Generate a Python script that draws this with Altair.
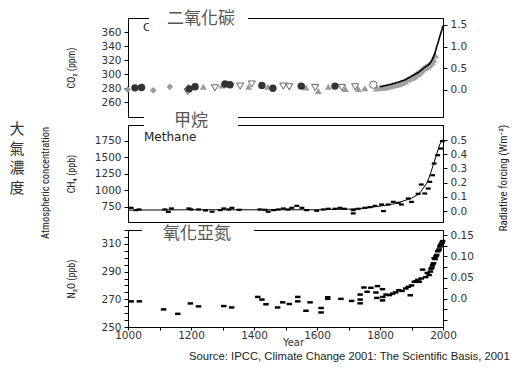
import altair as alt
import pandas as pd

# ---------------- data ----------------
# CO2 (ppm), ice-core series by marker type
co2_circle_year = [1022, 1043, 1194, 1213, 1308, 1324, 1425, 1460, 1550, 1657]
co2_circle_ppm = [280.5, 281, 279, 282, 286, 285, 284, 280, 283, 283]
co2_diamond_year = [999, 1080, 1133]
co2_diamond_ppm = [278, 277, 282]
co2_tri_year = [1192, 1239, 1298, 1383, 1444, 1565, 1604, 1636, 1690, 1731, 1752]
co2_tri_ppm = [282, 282, 284, 282, 282, 281, 276, 282, 279, 279, 280]
co2_open_year = [1189, 1276, 1356, 1393, 1493, 1512, 1594, 1679, 1721]
co2_open_ppm = [275, 280.5, 283, 286, 283, 282, 281, 281, 282]
co2_ring_year = [1779]
co2_ring_ppm = [285]
co2_band_year = [1790, 1800, 1810, 1820, 1830, 1840, 1850, 1860, 1870, 1880, 1890,
                 1900, 1905, 1910, 1915, 1920, 1925, 1930, 1935, 1940, 1945, 1950,
                 1955, 1960, 1965, 1970, 1975]
co2_band_ppm = [280, 281, 281, 282, 283, 284, 285, 286, 288, 290, 293,
                295, 296, 298, 300, 301, 303, 305, 307, 309, 310, 311,
                313, 315, 318, 321, 327]
co2_line_year = [1800, 1830, 1860, 1880, 1900, 1920, 1940, 1958, 1965, 1970, 1975,
                 1980, 1985, 1990, 1995, 2000]
co2_line_ppm = [282, 285, 289, 292, 297, 302, 309, 315, 320, 325, 331,
                339, 346, 354, 361, 369]

# CH4 (ppb)
ch4_year = [1010, 1025, 1035, 1117, 1128, 1138, 1193, 1200, 1224, 1246, 1267, 1293,
            1304, 1320, 1330, 1353, 1419, 1435, 1445, 1462, 1477, 1493, 1508, 1520,
            1536, 1552, 1567, 1599, 1620, 1636, 1657, 1673, 1687, 1715, 1715, 1731,
            1752, 1768, 1784, 1805, 1811, 1826, 1842, 1858, 1868, 1890, 1900, 1921,
            1931, 1942, 1953, 1958, 1967, 1972, 1983, 1993, 1998]
ch4_ppb = [735, 700, 710, 710, 674, 725, 725, 710, 710, 695, 676, 700,
           725, 710, 735, 705, 710, 705, 676, 700, 710, 725, 710, 735,
           765, 735, 700, 690, 710, 720, 720, 735, 720, 700, 650, 720,
           735, 745, 765, 785, 685, 785, 826, 810, 785, 876, 825, 947,
           1088, 952, 1027, 1129, 1229, 1406, 1532, 1633, 1745]
ch4_line_year = [1000, 1200, 1400, 1600, 1700, 1750, 1800, 1850, 1900, 1925, 1950,
                 1960, 1970, 1980, 1990, 2000]
ch4_line_ppb = [700, 705, 705, 705, 715, 730, 760, 800, 880, 950, 1120,
                1250, 1400, 1550, 1700, 1770]

# N2O (ppb)
n2o_year = [1010, 1036, 1113, 1158, 1198, 1224, 1304, 1329, 1412, 1425, 1438, 1475,
            1491, 1512, 1539, 1539, 1565, 1578, 1613, 1613, 1634, 1634, 1676, 1710,
            1737, 1737, 1737, 1749, 1759, 1771, 1787, 1792, 1790, 1808, 1809, 1808,
            1819, 1830, 1840, 1850, 1860, 1870, 1882, 1890, 1896, 1900, 1909, 1915,
            1920, 1925, 1931, 1935, 1945, 1950, 1956, 1960, 1962, 1965, 1967, 1970,
            1972, 1975, 1978, 1980, 1983, 1985, 1988, 1990, 1992, 1994, 1995, 1997, 1999]
n2o_ppb = [268.5, 268.5, 262.7, 259.5, 267, 264.9, 265.1, 264.1, 271.7, 269.8, 266.4, 264.1,
           267.8, 266.6, 271.7, 268.5, 261.7, 267.8, 263.7, 260.5, 271.5, 270.3, 270.3, 268.8,
           273.4, 269.8, 267.1, 278.5, 275.4, 278.3, 274.9, 279.5, 271, 277.3, 271.7, 269.2,
           273.4, 273, 274.1, 275, 276.6, 276, 277.8, 279, 272.9, 280, 282.6, 283,
           284, 282.6, 285, 291.4, 286, 289, 287.5, 290, 292, 293, 294.8, 296,
           299.7, 299, 301, 302, 304.6, 305, 306, 308, 309, 309.5, 310, 311, 312]

# axis tick values
x_ticks = list(range(1000, 2001, 100))
co2_ticks = [260, 280, 300, 320, 340, 360]
ch4_ticks = [750, 1000, 1250, 1500, 1750]
n2o_ticks = list(range(250, 321, 5))
co2_rf_ticks = [0.0, 0.5, 1.0, 1.5]
ch4_rf_ticks = [0.0, 0.1, 0.2, 0.3, 0.4, 0.5]
n2o_rf_ticks = [-0.05, -0.025, 0.0, 0.025, 0.05, 0.075, 0.1, 0.125, 0.15]

# scale domains
X_DOM = [1000, 2000]
CO2_DOM = [239, 380]
CO2_RF = [-0.623, 1.66]
CH4_DOM = [520, 1990]
CH4_RF = [-0.077, 0.606]
N2O_DOM = [250, 320]
N2O_RF = [-0.0667, 0.162]

W = 315
H1, H2, H3 = 99, 97, 97

NARROW = "Liberation Sans Narrow, Roboto Condensed, Roboto, sans-serif"
CJK = "Noto Sans CJK TC"


def xenc(show):
    if show:
        ax = alt.Axis(values=x_ticks,
                      labelExpr="datum.value % 200 == 0 ? format(datum.value, 'd') : ''",
                      labelFlush=False, title="Year", titlePadding=-3, labelPadding=0,
                      tickSize=3, titleX=165,
                      titleFont="DejaVu Sans", titleFontSize=10, titleFontWeight="normal",
                      titleColor="#333")
    else:
        ax = None
    return alt.X("year:Q", scale=alt.Scale(domain=X_DOM, nice=False, zero=False), axis=ax)


def yenc(dom, ticks, title, label_expr=None):
    kw = dict(values=ticks, title=title, titleFont=NARROW, titleFontSize=10,
              titleFontWeight="normal", titleColor="#222", titleX=-52, format="d")
    if label_expr:
        kw["labelExpr"] = label_expr
    return alt.Y("v:Q", scale=alt.Scale(domain=dom, nice=False, zero=False),
                 axis=alt.Axis(**kw))


def df(years, vals):
    return pd.DataFrame({"year": years, "v": vals})


def points(years, vals, yy, show_x, **mk):
    return alt.Chart(df(years, vals)).mark_point(**mk).encode(x=xenc(show_x), y=yy)


def line(years, vals, yy, show_x, **mk):
    return alt.Chart(df(years, vals)).mark_line(**mk).encode(x=xenc(show_x), y=yy)


def right_layer(dom, ticks, expr):
    d = pd.DataFrame({"f": dom})
    return alt.Chart(d).mark_point(opacity=0).encode(
        y=alt.Y("f:Q", scale=alt.Scale(domain=dom, nice=False, zero=False),
                axis=alt.Axis(orient="right", values=ticks, labelExpr=expr, title=None)))


ONE = pd.DataFrame({"k": [0]})


def box(x1, x2, y1, y2):
    return alt.Chart(ONE).mark_rect(color="white").encode(
        x=alt.value(x1), x2=alt.value(x2), y=alt.value(y1), y2=alt.value(y2))


def text(txt, x, y, **mk):
    return alt.Chart(ONE).mark_text(**mk).encode(
        x=alt.value(x), y=alt.value(y), text=alt.value(txt))


DASH = "M-1,-0.45L1,-0.45L1,0.45L-1,0.45Z"
ONEF = "format(datum.value, '.1f')"
N2O_RF_EXPR = ("datum.value < -0.001 ? '' : (abs(datum.value / 0.05 - round(datum.value / 0.05)) < 0.01 ? "
               "(datum.value == 0 ? '0.0' : format(datum.value, '.2f')) : '')")

# ---------------- CO2 panel ----------------
y1 = yenc(CO2_DOM, co2_ticks, "CO₂ (ppm)")
co2_left = alt.layer(
    points(co2_band_year, co2_band_ppm, y1, False, shape="triangle-up", filled=True,
           color="#a0a0a0", size=60, opacity=1),
    line(co2_line_year, co2_line_ppm, y1, False, color="black", strokeWidth=1.6),
    points(co2_diamond_year, co2_diamond_ppm, y1, False, shape="diamond", filled=True,
           color="#9a9a9a", size=45, opacity=1),
    points(co2_tri_year, co2_tri_ppm, y1, False, shape="triangle-up", filled=True,
           color="#9a9a9a", size=50, opacity=1),
    points(co2_open_year, co2_open_ppm, y1, False, shape="triangle-down", filled=True,
           fill="white", stroke="#666", strokeWidth=1, size=50, opacity=1),
    points(co2_circle_year, co2_circle_ppm, y1, False, shape="circle", filled=True,
           color="#333", size=55, opacity=1),
    points(co2_ring_year, co2_ring_ppm, y1, False, shape="circle", filled=True,
           fill="white", stroke="#666", strokeWidth=1, size=55, opacity=1),
)
co2_panel = alt.layer(
    co2_left,
    right_layer(CO2_RF, co2_rf_ticks, ONEF),
    text("C", 15, 10, align="left", baseline="middle",
         font="DejaVu Sans", fontSize=11, color="#222"),
    box(21, 120, -9, 16),
    text("二氧化碳", 73, 1, align="center", baseline="middle",
         font=CJK, fontSize=17, color="#555"),
).resolve_scale(y="independent").properties(width=W, height=H1)

# ---------------- CH4 panel ----------------
y2 = yenc(CH4_DOM, ch4_ticks, "CH₄ (ppb)")
ch4_left = alt.layer(
    line(ch4_line_year, ch4_line_ppb, y2, False, color="black", strokeWidth=1),
    points(ch4_year, ch4_ppb, y2, False, shape=DASH, filled=True, color="black",
           size=24, opacity=1),
)
ch4_panel = alt.layer(
    ch4_left,
    right_layer(CH4_RF, ch4_rf_ticks, ONEF),
    box(16, 110, -12, 6),
    text("甲烷", 63, -4, align="center", baseline="middle", font=CJK, fontSize=17, color="#555"),
    text("Methane", 16, 12, align="left", baseline="middle", font="DejaVu Sans",
         fontSize=12, color="#222"),
    text("大\n氣\n濃\n度", -111, -3, align="center", baseline="top", lineBreak="\n",
         lineHeight=19.5, font=CJK, fontSize=15, color="#333"),
    text("Atmospheric concentration", -82, 58, align="center", baseline="middle",
         angle=270, font=NARROW, fontSize=10.5, color="#222"),
    text("Radiative forcing  (Wm⁻²)", 376, 53, align="center", baseline="middle",
         angle=270, font=NARROW, fontSize=11, color="#222"),
).resolve_scale(y="independent").properties(width=W, height=H2)

# ---------------- N2O panel ----------------
y3 = yenc(N2O_DOM, n2o_ticks, "N₂O (ppb)", "datum.value % 20 == 10 ? datum.label : ''")
n2o_left = alt.layer(
    points(n2o_year, n2o_ppb, y3, True, shape=DASH, filled=True, color="black",
           size=30, opacity=1),
)
n2o_panel = alt.layer(
    n2o_left,
    right_layer(N2O_RF, n2o_rf_ticks, N2O_RF_EXPR),
    box(14, 126, -6, 13),
    text("氧化亞氮", 69, 4, align="center", baseline="middle", font=CJK, fontSize=17, color="#555"),
    text("Source: IPCC, Climate Change 2001: The Scientific Basis, 2001", 61, 127,
         align="left", baseline="middle", font="Liberation Sans", fontSize=11.3, color="#222"),
).resolve_scale(y="independent").properties(width=W, height=H3)

chart = alt.vconcat(co2_panel, ch4_panel, n2o_panel).properties(
    spacing=8, bounds="flush",
    padding={"left": 0, "top": 0, "right": 0, "bottom": 0},
    background="white",
).configure_view(
    stroke="black", strokeWidth=1
).configure_axis(
    labelFont="DejaVu Sans", labelFontSize=10.5, labelColor="#333",
    domainColor="black", tickColor="black", tickSize=4, grid=False, labelPadding=3,
)

chart.save("out.html", embed_options={"renderer": "svg", "actions": False})
